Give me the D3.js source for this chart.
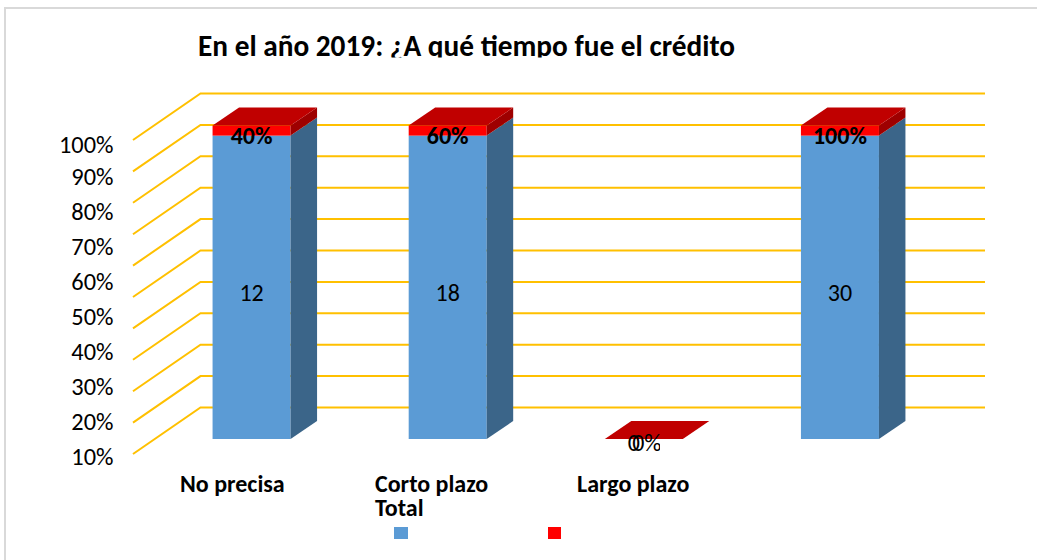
<!DOCTYPE html>
<html><head><meta charset="utf-8">
<script src="https://cdn.jsdelivr.net/npm/d3@7"></script>
<style>html,body{margin:0;padding:0;background:#fff}svg{display:block}text{font-family:Carlito,Lato,sans-serif;fill:#000}</style>
</head><body><div id="c"></div>
<script>
const title = "En el año 2019: ¿A qué tiempo fue el crédito";
const categories = ["No precisa", "Corto plazo", "Largo plazo", "Total"];
const barCategories = ["No precisa", "Corto plazo", "Largo plazo", "Total"];
const totals = [12, 18, 0, 30];
const percents = [0.4, 0.6, 0, 1];
const percentLabels = ["40%", "60%", "0%", "100%"];
const tickLabels = [10, 20, 30, 40, 50, 60, 70, 80, 90, 100];
const gridValues = [0, 10, 20, 30, 40, 50, 60, 70, 80, 90, 100];
const legendColors = ["#5B9BD5", "#FF0000"];

const W = 1037, H = 560;
const svg = d3.select("#c").append("svg").attr("width", W).attr("height", H);
svg.append("rect").attr("x",5).attr("y",8).attr("width",W+20).attr("height",H+20)
  .attr("fill","#fff").attr("stroke","#D9D9D9").attr("stroke-width",2);

// title (clipped at the bottom as in the source)
svg.append("clipPath").attr("id","tc").append("rect").attr("x",150).attr("y",25).attr("width",700).attr("height",32.5);
svg.append("g").attr("clip-path","url(#tc)").append("text").text(title)
  .attr("x",198).attr("y",55.5).attr("font-size",29.3).attr("font-weight",700);

// 3D geometry
const wallDx = 67.5, wallDy = 46.5;
const gridY = d3.scaleLinear().domain([0,100]).range([454,140]);
const x = d3.scaleBand().domain(barCategories).range([133,917.5]);
const barOffset = 20.5, barW = 78, depthX = 26.5, depthY = 18;
const barY = d3.scaleLinear().domain([0,1]).range([439,125.5]);
const barX = c => x(c) + x.bandwidth()/2 - barW/2 + barOffset;

// grid
const grid = svg.append("g").attr("fill","none").attr("stroke","#FFC000").attr("stroke-width",2);
grid.selectAll("path").data(gridValues).join("path")
  .attr("d", v => d3.line()([[x.range()[0],gridY(v)],[x.range()[0]+wallDx,gridY(v)-wallDy],[x.range()[1]+wallDx,gridY(v)-wallDy]]));

// axis labels
const labelY = d3.scaleLinear().domain([10,90,100]).range([456,176,144.5]);
const ax = svg.append("g").attr("transform","translate(113.5,0)")
  .call(d3.axisLeft(labelY).tickValues(tickLabels).tickSize(0).tickPadding(0).tickFormat(d=>d+"%"));
ax.select(".domain").remove();
ax.selectAll("text").attr("font-size",24.4).attr("font-family","Carlito,Lato,sans-serif").attr("fill","#000").attr("dy","0.34em");

// stacked 100%
const rows = barCategories.map((c,i)=>({c,total:totals[i],pct:percents[i]}));
const stack = d3.stack().keys(["total","pct"]).offset(d3.stackOffsetExpand)(rows);
const poly = pts => d3.line()(pts)+"Z";
const frontColor = ["#5B9BD5","#FF0000"], sideColor = ["#3B6589","#9E0000"];
const bars = svg.append("g");
stack.forEach((s,k)=>{
  const g = bars.append("g");
  g.selectAll("rect").data(s).join("rect")
    .attr("x",d=>barX(d.data.c)).attr("width",barW)
    .attr("y",d=>barY(d[1])).attr("height",d=>barY(d[0])-barY(d[1]))
    .attr("fill",frontColor[k]);
  g.selectAll("path").data(s).join("path")
    .attr("d",d=>{const l=barX(d.data.c)+barW;return poly([[l,barY(d[1])],[l+depthX,barY(d[1])-depthY],[l+depthX,barY(d[0])-depthY],[l,barY(d[0])]]);})
    .attr("fill",sideColor[k]);
});
bars.append("g").selectAll("path").data(stack[1]).join("path")
  .attr("d",d=>{const l=barX(d.data.c),t=barY(d[1]);return poly([[l,t],[l+depthX,t-depthY],[l+depthX+barW,t-depthY],[l+barW,t]]);})
  .attr("fill","#C00000");

// data labels
const cx = c => barX(c)+barW/2;
svg.append("g").selectAll("text").data(rows.filter(r=>r.total>0)).join("text")
  .text(r=>r.total).attr("x",r=>cx(r.c)).attr("y",293).attr("dy","0.34em")
  .attr("text-anchor","middle").attr("font-size",24);
svg.append("g").selectAll("text").data(rows.filter(r=>r.pct>0)).join("text")
  .text((r)=>percentLabels[barCategories.indexOf(r.c)]).attr("x",r=>cx(r.c)).attr("y",136).attr("dy","0.34em")
  .attr("text-anchor","middle").attr("font-size",24).attr("font-weight",700);
// the two overlapping zero labels of the empty bar
const zero = rows.find(r=>r.total===0);
svg.append("clipPath").attr("id","zc").append("rect").attr("x",620).attr("y",430).attr("width",40).attr("height",22);
const zg = svg.append("g").attr("clip-path","url(#zc)");
zg.append("text").text(zero.total).attr("x",cx(zero.c)-10).attr("y",443).attr("dy","0.34em").attr("text-anchor","middle").attr("font-size",24);
zg.append("text").text(percentLabels[2]).attr("x",cx(zero.c)+3).attr("y",443).attr("dy","0.34em").attr("text-anchor","middle").attr("font-size",24);

// category labels (source places them unevenly; "Total" wraps below "Corto plazo")
const catPos = {"No precisa":[180,491.5],"Corto plazo":[375,491.5],"Largo plazo":[577,491.5],"Total":[375,515.5]};
svg.append("g").selectAll("text").data(categories).join("text").text(d=>d)
  .attr("x",d=>catPos[d][0]).attr("y",d=>catPos[d][1]).attr("font-size",24).attr("font-weight",700);

// legend swatches
svg.append("g").selectAll("rect").data(legendColors).join("rect")
  .attr("x",(d,i)=>i?548:394).attr("y",527).attr("width",(d,i)=>i?13:14).attr("height",12).attr("fill",d=>d);
</script></body></html>
